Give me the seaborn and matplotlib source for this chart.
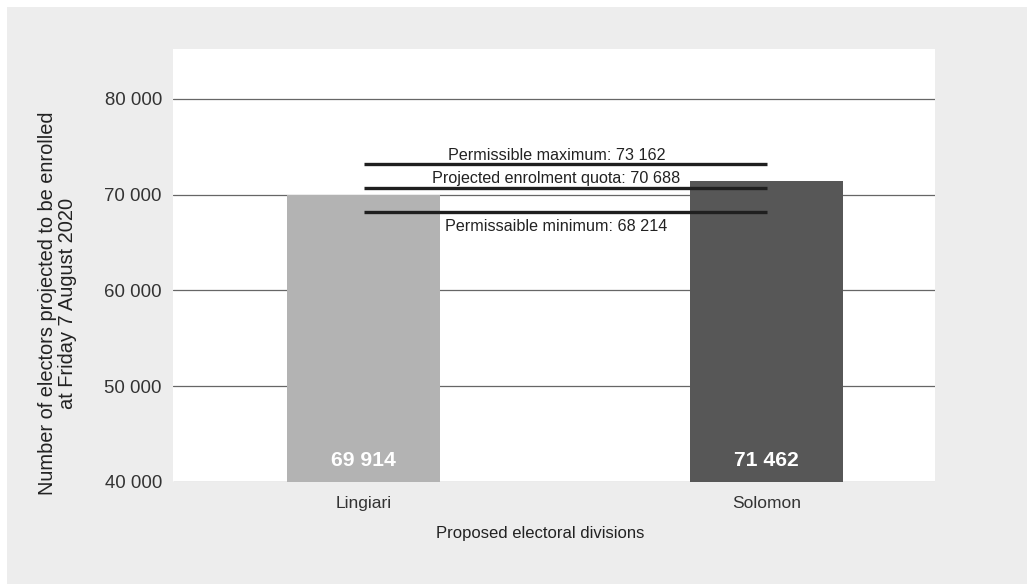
import matplotlib
matplotlib.use("Agg")
import matplotlib.pyplot as plt
import seaborn as sns
import pandas as pd
from matplotlib.patches import Rectangle

divisions = ["Lingiari", "Solomon"]
electors = [69914, 71462]
value_labels = ["69 914", "71 462"]
bar_colors = ["#b3b3b3", "#575757"]
ref_values = [73162, 70688, 68214]
ref_labels = ["Permissible maximum: 73 162", "Projected enrolment quota: 70 688",
              "Permissaible minimum: 68 214"]
y_ticks = [40000, 50000, 60000, 70000, 80000]
y_tick_labels = ["40 000", "50 000", "60 000", "70 000", "80 000"]

sns.set_theme(style="white")
plt.rcParams["font.family"] = ["Liberation Sans", "DejaVu Sans"]

fig = plt.figure(figsize=(10.27, 5.84), dpi=100)
bg = Rectangle((7 / 1027, 0), 1, 1 - 7 / 584, transform=fig.transFigure,
               facecolor="#ededed", edgecolor="none", zorder=-10)
fig.add_artist(bg)
ax = fig.add_axes([173 / 1027, 1 - 482 / 584, (935 - 173) / 1027, (482 - 49) / 584])
ax.set_zorder(1)
ax.set_facecolor("white")

df = pd.DataFrame({"division": divisions, "electors": electors})
sns.barplot(data=df, x="division", y="electors", hue="division", palette=bar_colors,
            width=0.38, ax=ax, legend=False, saturation=1, linewidth=0, zorder=2)

ax.set_ylim(40000, 85200)
ax.set_xlim(-0.473, 1.418)
ax.set_yticks(y_ticks)
ax.set_yticklabels(y_tick_labels)
ax.yaxis.grid(True, color="#666666", linewidth=0.9, zorder=1)
ax.set_axisbelow(True)
for s in ax.spines.values():
    s.set_visible(False)
ax.tick_params(axis="both", length=0, colors="#333333")
ax.tick_params(axis="y", pad=8, labelsize=13.4)
ax.tick_params(axis="x", pad=10, labelsize=12.5)

for i, lab in enumerate(value_labels):
    ax.text(i, 40000 + 1300, lab, ha="center", va="bottom", color="white",
            fontsize=15.2, fontweight="bold", zorder=4)

ax.hlines(ref_values, 0, 1, colors="#1f1f1f", linewidth=2.4, zorder=3)
ax.text(0.479, ref_values[0] + 150, ref_labels[0], ha="center", va="bottom", fontsize=11.6, color="#222222", zorder=4)
ax.text(0.479, ref_values[1] + 250, ref_labels[1], ha="center", va="bottom", fontsize=11.6, color="#222222", zorder=4)
ax.text(0.479, ref_values[2] - 750, ref_labels[2], ha="center", va="top", fontsize=11.6, color="#222222", zorder=4)

ax.set_xlabel("Proposed electoral divisions", fontsize=12, color="#222222", labelpad=10)
ax.xaxis.set_label_coords((540 - 173) / 762, -0.102)
ax.set_ylabel("")
ax.text((57.5 - 173) / 762, (482 - 303) / 433,
        "Number of electors projected to be enrolled\nat Friday 7 August 2020",
        transform=ax.transAxes, rotation=90, ha="center", va="center",
        fontsize=14.4, color="#222222", linespacing=1.05)

fig.savefig("out.png", dpi=100, facecolor="white")
